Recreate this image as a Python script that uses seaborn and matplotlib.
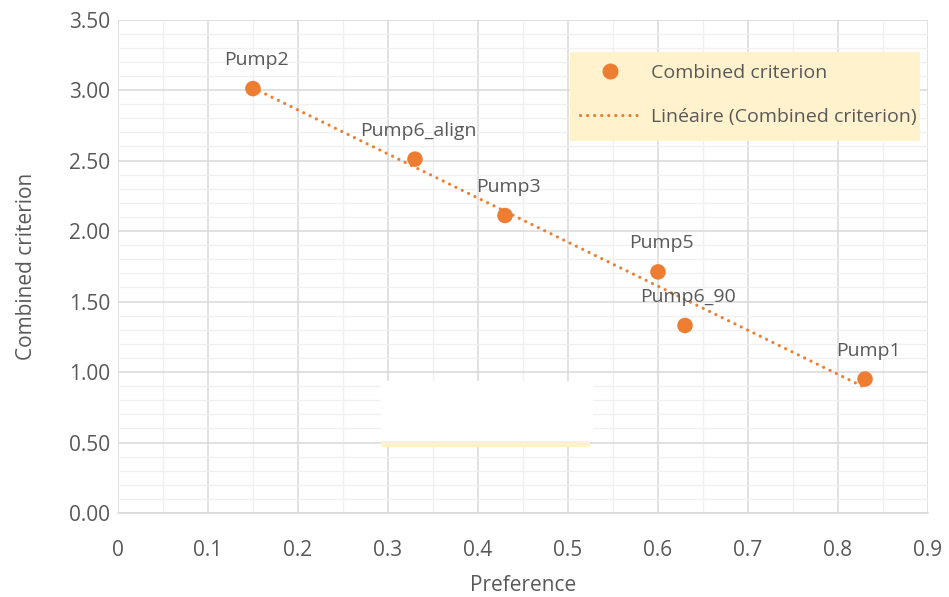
import matplotlib
matplotlib.use("Agg")
import matplotlib.pyplot as plt
from matplotlib.patches import Rectangle
from matplotlib.lines import Line2D
from matplotlib.ticker import MultipleLocator, FixedLocator
import seaborn as sns
import pandas as pd

# Pump comparison data
pumps = ["Pump2", "Pump6_align", "Pump3", "Pump5", "Pump6_90", "Pump1"]
preference = [0.15, 0.33, 0.43, 0.60, 0.63, 0.83]
combined = [3.01, 2.51, 2.11, 1.71, 1.33, 0.95]

x_ticks = [0, 0.1, 0.2, 0.3, 0.4, 0.5, 0.6, 0.7, 0.8, 0.9]
x_tick_labels = ["0", "0.1", "0.2", "0.3", "0.4", "0.5", "0.6", "0.7", "0.8", "0.9"]
y_ticks = [0.0, 0.5, 1.0, 1.5, 2.0, 2.5, 3.0, 3.5]
y_tick_labels = ["0.00", "0.50", "1.00", "1.50", "2.00", "2.50", "3.00", "3.50"]

df = pd.DataFrame({"pump": pumps, "Preference": preference, "Combined criterion": combined})

ORANGE = "#ED7D31"
TEXT = "#595959"
GRID = "#D9D9D9"
DOTS = (0, (0.01, 2.2))

sns.set_theme(style="white")
plt.rcParams["font.family"] = ["Open Sans", "DejaVu Sans"]

fig = plt.figure(figsize=(9.49, 5.97), dpi=100)
ax = fig.add_axes([0.1243, 0.1407, 0.8536, 0.8266])

# trend line (least squares over the data range)
sns.regplot(data=df, x="Preference", y="Combined criterion", ax=ax, scatter=False,
            ci=None, truncate=True,
            line_kws=dict(color=ORANGE, lw=2.3, linestyle=DOTS,
                          dash_capstyle="round", zorder=3))

sns.scatterplot(data=df, x="Preference", y="Combined criterion", ax=ax,
                color=ORANGE, s=125, edgecolor="none", zorder=4)

for name, xv, yv in zip(pumps, preference, combined):
    ax.annotate(name, (xv, yv), xytext=(2.5, 20.5), textcoords="offset points",
                ha="center", va="center", fontsize=14, color=TEXT, zorder=5)

ax.set_xlim(0, 0.9)
ax.set_ylim(0, 3.5)
ax.xaxis.set_major_locator(FixedLocator(x_ticks))
ax.yaxis.set_major_locator(FixedLocator(y_ticks))
ax.set_xticklabels(x_tick_labels)
ax.set_yticklabels(y_tick_labels)
ax.xaxis.set_minor_locator(MultipleLocator(0.05))
ax.yaxis.set_minor_locator(MultipleLocator(0.1))
ax.grid(which="major", color=GRID, lw=1.1, zorder=0)
ax.grid(which="minor", color="#F0F0F0", lw=1.0, zorder=0)
ax.set_axisbelow(True)
ax.tick_params(which="both", length=0, labelsize=15, labelcolor=TEXT)
ax.tick_params(axis="y", pad=5.5)
ax.tick_params(axis="x", which="major", direction="out", length=5.8, width=1.1,
               color=GRID, pad=13.5)
for side, sp in ax.spines.items():
    sp.set_visible(side == "bottom")
ax.spines["bottom"].set_color(GRID)
ax.spines["bottom"].set_linewidth(1.1)

ax.set_xlabel("Preference", fontsize=15, color=TEXT, labelpad=10)
ax.set_ylabel("Combined criterion", fontsize=15, color=TEXT, labelpad=23)

# blank text box left in the plot area
ax.add_patch(Rectangle((0.3247, 0.1459), 0.2617, 0.1216, transform=ax.transAxes,
                       facecolor="white", edgecolor="none", zorder=1))
ax.add_patch(Rectangle((0.3247, 0.1337), 0.2580, 0.0122, transform=ax.transAxes,
                       facecolor="#FFF2CC", edgecolor="none", zorder=1))

# legend on a cream panel
ax.add_patch(Rectangle((0.5580, 0.7538), 0.4321, 0.1803, transform=ax.transAxes,
                       facecolor="#FFF2CC", edgecolor="none", zorder=2))
handles = [
    Line2D([], [], marker="o", color=ORANGE, linestyle="none", markersize=10.5),
    Line2D([], [], color=ORANGE, lw=2.3, linestyle=DOTS, dash_capstyle="round"),
]
leg = ax.legend(handles, ["Combined criterion", "Linéaire (Combined criterion)"],
                loc="center left", bbox_to_anchor=(0.5704, 0.847), frameon=False,
                fontsize=14, labelcolor=TEXT, handlelength=3.1, handletextpad=0.57,
                labelspacing=1.32, borderpad=0, borderaxespad=0)
leg.set_zorder(6)

fig.savefig("out.png", dpi=100)
